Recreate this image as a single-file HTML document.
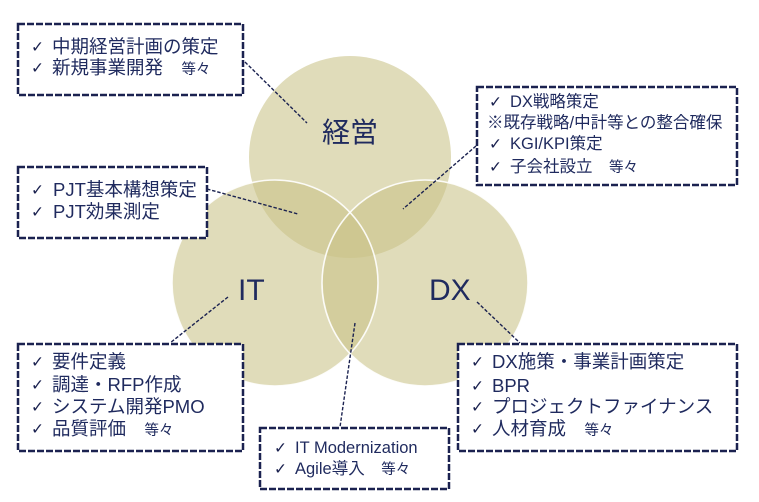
<!DOCTYPE html>
<html><head><meta charset="utf-8">
<style>
html,body{margin:0;padding:0;background:#fff;}
#c{position:relative;width:759px;height:502px;overflow:hidden;background:#fff;}
svg{position:absolute;left:0;top:0;}
.t{position:absolute;white-space:nowrap;height:24px;line-height:24px;color:#1f2a5e;font-family:"Liberation Sans","Noto Sans CJK JP",sans-serif;font-size:18.5px;}
.ck{position:absolute;white-space:nowrap;height:24px;line-height:24px;color:#1b2250;font-family:"DejaVu Sans",sans-serif;font-size:15.5px;font-weight:bold;}
.s{font-size:14.5px;}
.m{font-size:16.5px;}
.lab{position:absolute;color:#1f2a5e;font-family:"Liberation Sans","Noto Sans CJK JP",sans-serif;white-space:nowrap;}
</style></head><body><div id="c">
<svg width="759" height="502" viewBox="0 0 759 502">
  <g fill="rgb(202,195,136)" fill-opacity="0.58">
    <circle cx="350" cy="157" r="101"/>
    <circle cx="275" cy="283" r="103"/>
    <circle cx="425" cy="283" r="103"/>
  </g>
  <g fill="none" stroke="#fff" stroke-width="1.6" stroke-opacity="0.9">
    <circle cx="275" cy="283" r="103"/>
    <circle cx="425" cy="283" r="103"/>
  </g>
  <g stroke="#1b2250" stroke-width="1.4" stroke-dasharray="3.5 1.8" fill="none">
    <line x1="245" y1="62" x2="307" y2="123"/>
    <line x1="207" y1="189" x2="298" y2="214"/>
    <line x1="476" y1="146" x2="403" y2="209"/>
    <line x1="228" y1="297" x2="170" y2="343"/>
    <line x1="477" y1="302" x2="520" y2="343"/>
    <line x1="355" y1="323" x2="340" y2="427"/>
  </g>
  <g fill="#fff" stroke="#1b2250" stroke-width="2.5" stroke-dasharray="7 2">
    <rect x="18" y="24" width="225" height="71"/>
    <rect x="477" y="87" width="260" height="98"/>
    <rect x="18" y="167" width="189" height="71"/>
    <rect x="18" y="344" width="225" height="107"/>
    <rect x="458" y="344" width="279" height="107"/>
    <rect x="260" y="428" width="189" height="61"/>
  </g>
</svg>

<div class="lab" style="left:322px;top:115px;font-size:28px;line-height:36px;">経営</div>
<div class="lab" style="left:238px;top:273px;font-size:30px;line-height:36px;">IT</div>
<div class="lab" style="left:429px;top:273px;font-size:30px;line-height:36px;">DX</div>

<!-- Box1 -->
<div class="ck" style="left:31px;top:35px;">✓</div><div class="t" style="left:52px;top:35px;">中期経営計画の策定</div>
<div class="ck" style="left:31px;top:56px;">✓</div><div class="t" style="left:52px;top:56px;">新規事業開発　<span class="s">等々</span></div>

<!-- Box2 -->
<div class="ck" style="left:489px;top:90px;">✓</div><div class="t m" style="left:510px;top:90px;">DX戦略策定</div>
<div class="t m" style="left:487px;top:111px;">※既存戦略/中計等との整合確保</div>
<div class="ck" style="left:489px;top:132px;">✓</div><div class="t m" style="left:510px;top:132px;">KGI/KPI策定</div>
<div class="ck" style="left:489px;top:155px;">✓</div><div class="t m" style="left:510px;top:155px;">子会社設立　<span class="s">等々</span></div>

<!-- Box6 PJT -->
<div class="ck" style="left:31px;top:178px;">✓</div><div class="t" style="left:53px;top:178px;">PJT基本構想策定</div>
<div class="ck" style="left:31px;top:200px;">✓</div><div class="t" style="left:53px;top:200px;">PJT効果測定</div>

<!-- Box3 IT -->
<div class="ck" style="left:31px;top:350px;">✓</div><div class="t" style="left:52px;top:350px;">要件定義</div>
<div class="ck" style="left:31px;top:373px;">✓</div><div class="t" style="left:52px;top:373px;">調達・RFP作成</div>
<div class="ck" style="left:31px;top:395px;">✓</div><div class="t" style="left:52px;top:395px;">システム開発PMO</div>
<div class="ck" style="left:31px;top:417px;">✓</div><div class="t" style="left:52px;top:417px;">品質評価　<span class="s">等々</span></div>

<!-- Box4 DX -->
<div class="ck" style="left:471px;top:350px;">✓</div><div class="t" style="left:492px;top:350px;">DX施策・事業計画策定</div>
<div class="ck" style="left:471px;top:374px;">✓</div><div class="t" style="left:492px;top:374px;">BPR</div>
<div class="ck" style="left:471px;top:395px;">✓</div><div class="t" style="left:492px;top:395px;">プロジェクトファイナンス</div>
<div class="ck" style="left:471px;top:417px;">✓</div><div class="t" style="left:492px;top:417px;">人材育成　<span class="s">等々</span></div>

<!-- Box5 -->
<div class="ck" style="left:274px;top:436px;">✓</div><div class="t m" style="left:295px;top:436px;">IT Modernization</div>
<div class="ck" style="left:274px;top:457px;">✓</div><div class="t m" style="left:295px;top:457px;">Agile導入　<span class="s">等々</span></div>
</div></body></html>
